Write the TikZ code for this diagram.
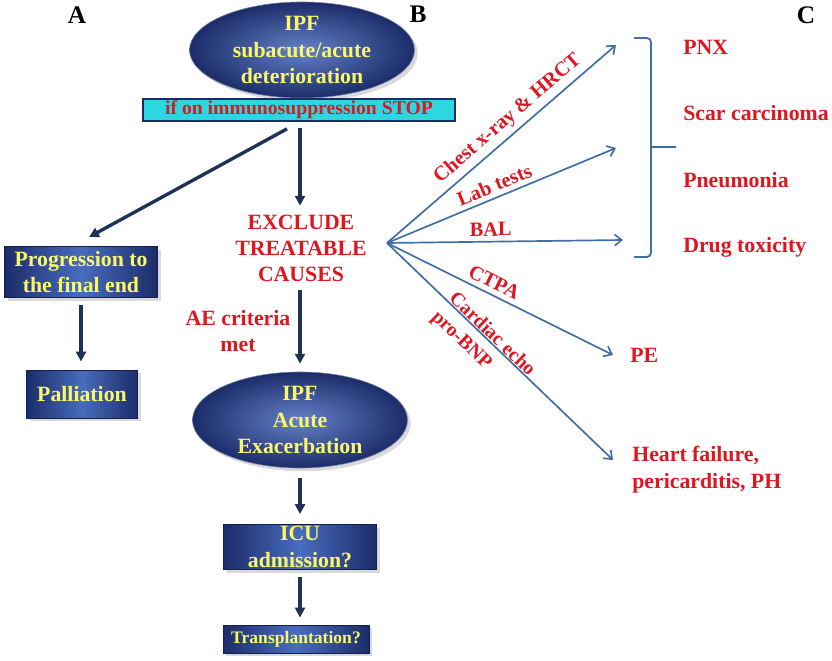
\documentclass[tikz,border=0pt]{standalone}
\usepackage{fontspec}
\setmainfont{Liberation Serif}
\usetikzlibrary{arrows.meta,shapes.geometric,shadows}
\newlength{\pxu}
\setlength{\pxu}{0.025cm}
\definecolor{navy}{RGB}{28,44,105}
\definecolor{boxmid}{RGB}{72,108,190}
\definecolor{arrownavy}{RGB}{30,50,88}
\definecolor{steel}{RGB}{65,110,165}
\definecolor{redtxt}{RGB}{222,22,32}
\definecolor{yeltxt}{RGB}{250,248,105}
\definecolor{barcyan}{RGB}{45,215,225}
\begin{document}
\begin{tikzpicture}[
            x=\pxu, y=-\pxu,
            font=\bfseries\fontsize{15.5}{19}\selectfont,
            bluebox/.style={draw=navy!70!black, line width=0.6pt, left color=navy, right color=navy,
                middle color=boxmid, text=yeltxt, align=center, inner sep=0pt, drop shadow={opacity=0.3}},
            blueoval/.style={ellipse, draw=navy!60, inner color=boxmid!85!white, outer color=navy,
                text=yeltxt, align=center, inner sep=0pt, drop shadow={opacity=0.3}},
            redtext/.style={text=redtxt, align=center},
            rightlabel/.style={redtext, anchor=west, inner sep=0pt, align=left},
            panel/.style={font=\bfseries\fontsize{18}{20}\selectfont},
            mainarrow/.style={-{Triangle[length=7pt,width=7pt]}, line width=2.4pt, draw=arrownavy},
            fanarrow/.style={-{Straight Barb[length=5pt,width=8pt]}, line width=1.2pt, draw=steel},
            fanlabel/.style={redtext, sloped, font=\bfseries\fontsize{14.5}{18}\selectfont}
        ]
            \useasboundingbox (0,0) rectangle (832,661);

            \node[panel] (labA) at (77,15) {A};
            \node[panel] (labB) at (418,14) {B};
            \node[panel] (labC) at (806,15) {C};

            % column B
            \node[blueoval, minimum width=225\pxu, minimum height=94\pxu] (ipf) at (302,50) {IPF\\subacute/acute\\deterioration};
            \node[draw=navy, line width=1.2pt, fill=barcyan, text=redtxt, minimum width=312\pxu, minimum height=22\pxu,
                inner sep=0pt, font=\bfseries\fontsize{14}{16}\selectfont] (stop) at (299,110) {if on immunosuppression STOP};
            \node[redtext, font=\bfseries\fontsize{15.5}{18.5}\selectfont] (excl) at (301,248) {EXCLUDE\\TREATABLE\\CAUSES};
            \node[redtext] (ae) at (238,331) {AE criteria\\met};
            \node[blueoval, minimum width=215\pxu, minimum height=85\pxu] (ipfae) at (300,420) {IPF\\Acute\\Exacerbation};
            \node[bluebox, minimum width=153\pxu, minimum height=45\pxu] (icu) at (300,547) {ICU\\admission?};
            \node[bluebox, minimum width=146\pxu, minimum height=28\pxu, font=\bfseries\fontsize{12.5}{14}\selectfont] (trans) at (296,639) {Transplantation?};

            % column A
            \node[bluebox, minimum width=153\pxu, minimum height=51\pxu] (prog) at (81,272) {Progression to\\the final end};
            \node[bluebox, minimum width=111\pxu, minimum height=48\pxu] (pall) at (82,394) {Palliation};

            \draw[mainarrow] ([yshift=-6\pxu]stop.south -| ipfae.north) -- ([yshift=4\pxu]excl.north -| ipfae.north);
            \draw[mainarrow] ([xshift=-12\pxu,yshift=-7\pxu]stop.south) -- ([xshift=8\pxu,yshift=9\pxu]prog.north);
            \draw[mainarrow] ([yshift=-7\pxu]prog.south) -- ([yshift=8\pxu]pall.north -| prog.south);
            \draw[mainarrow] ([yshift=-4\pxu]excl.south -| ipfae.north) -- ([yshift=8\pxu]ipfae.north);
            \draw[mainarrow] ([yshift=-10\pxu]ipfae.south) -- ([yshift=10\pxu]icu.north);
            \draw[mainarrow] ([yshift=-7\pxu]icu.south) -- ([yshift=7\pxu]trans.north -| icu.south);

            % column C
            \node[rightlabel] (pnx) at (683,47) {PNX};
            \node[rightlabel] (scar) at (683,113) {Scar carcinoma};
            \node[rightlabel] (pneu) at (683,180) {Pneumonia};
            \node[rightlabel] (drug) at (683,247) {Drug toxicity};
            \node[rightlabel] (pe) at (630,355) {PE};
            \node[rightlabel] (hf) at (632,470) {Heart failure,\\pericarditis, PH};

            \coordinate (fan) at (387,243);
            \coordinate (chestend) at (616,45);
            \coordinate (labend) at (616,148);
            \coordinate (balend) at (623,240);

            \draw[fanarrow] (fan) -- node[fanlabel, above, pos=0.57] {Chest x-ray \& HRCT} (chestend);
            \draw[fanarrow] (fan) -- node[fanlabel, above, pos=0.49] {Lab tests} (labend);
            \draw[fanarrow] (fan) -- node[fanlabel, above, pos=0.44] {BAL} (balend);
            \draw[fanarrow] (fan) -- node[fanlabel, above, pos=0.45] {CTPA} ([xshift=-17\pxu]pe.west);
            \draw[fanarrow] (fan) -- ([xshift=-19\pxu,yshift=10\pxu]hf.west);
            \node[fanlabel, rotate=-43.8, align=left, font=\bfseries\fontsize{14}{18}\selectfont] (echo) at (483,344) {Cardiac echo\\pro-BNP};

            \draw[steel, line width=1.3pt, rounded corners=3pt] (634,38) -- (651,38) -- (651,257) -- (634,257);
            \draw[steel, line width=1.3pt] (651,147) -- (676,147);
        \end{tikzpicture}
\end{document}
